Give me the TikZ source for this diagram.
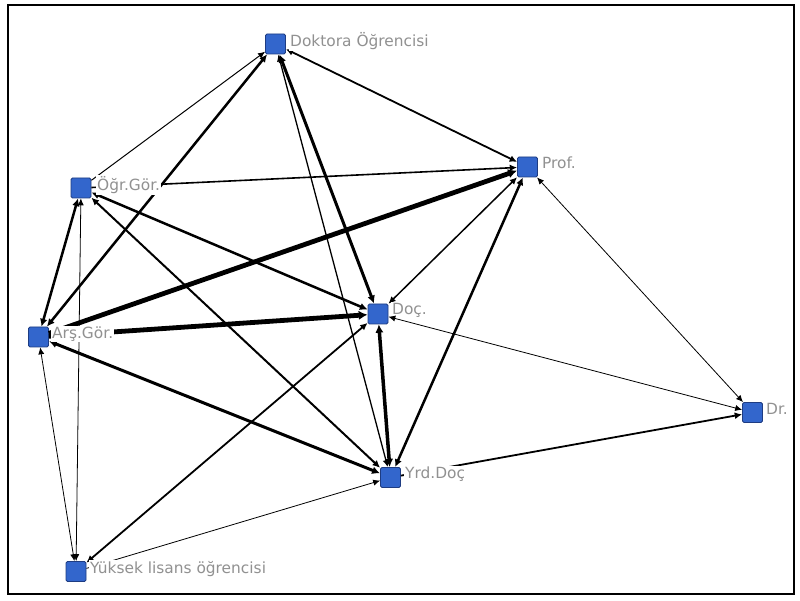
\documentclass[tikz,border=0pt]{standalone}
\usepackage{fontspec}
\setmainfont{DejaVu Sans}
\usetikzlibrary{arrows.meta}
\definecolor{nodeblue}{RGB}{51,102,204}
\definecolor{nodeedge}{RGB}{30,60,130}
\definecolor{labelgray}{RGB}{145,145,145}
\begin{document}
\begin{tikzpicture}[x=1pt,y=-1pt,
  actor/.style={rectangle, minimum size=20pt, inner sep=0pt, fill=nodeblue, draw=nodeedge, line width=0.8pt, rounded corners=1.5pt},
  lbl/.style={anchor=west, fill=white, inner xsep=1pt, inner ysep=1pt, text=labelgray, font=\fontsize{15.4}{18}\selectfont},
  tie/.style={draw=black, line width=#1},
  one/.style={-{Latex[length=6.5pt 0.5, width=5.5pt 0.8]}},
  two/.style={{Latex[length=6.5pt 0.5, width=5.5pt 0.8]}-{Latex[length=6.5pt 0.5, width=5.5pt 0.8]}},
]
\useasboundingbox (0,0) rectangle (800,601);
\fill[white] (0,0) rectangle (800,601);
\draw[line width=2pt] (8,5) rectangle (794,594);

% actors
\node[actor] (dok) at (275.5,44) {};
\node[actor] (prof) at (527.5,167) {};
\node[actor] (ogr) at (81,188) {};
\node[actor] (ars) at (38.5,337) {};
\node[actor] (doc) at (378,314) {};
\node[actor] (yrd) at (390.5,477.5) {};
\node[actor] (yuk) at (76,571.5) {};
\node[actor] (dr) at (752.5,412.5) {};

% ties
\draw[tie=1pt, one] (ogr) -- (dok);
\draw[tie=2.5pt, two] (ars) -- (dok);
\draw[tie=1.8pt, two] (dok) -- (prof);
\draw[tie=3pt, two] (dok) -- (doc);
\draw[tie=1.3pt, two] (dok) -- (yrd);
\draw[tie=1.6pt, one] (ogr) -- (prof);
\draw[tie=4.8pt, one] (ars) -- (prof);
\draw[tie=1.5pt, two] (doc) -- (prof);
\draw[tie=2.5pt, two] (yrd) -- (prof);
\draw[tie=0.8pt, two] (dr) -- (prof);
\draw[tie=2.5pt, two] (ogr) -- (ars);
\draw[tie=2.5pt, two] (ogr) -- (doc);
\draw[tie=2pt, two] (ogr) -- (yrd);
\draw[tie=0.8pt, two] (ogr) -- (yuk);
\draw[tie=4.8pt, one] (ars) -- (doc);
\draw[tie=3pt, two] (ars) -- (yrd);
\draw[tie=0.8pt, two] (ars) -- (yuk);
\draw[tie=3.5pt, two] (doc) -- (yrd);
\draw[tie=1.8pt, two] (yuk) -- (doc);
\draw[tie=0.8pt, one] (yuk) -- (yrd);
\draw[tie=1.8pt, one] (yrd) -- (dr);

% labels
\node[lbl] (ldok) at (289,41) {Doktora Öğrencisi};
\node[lbl] (lprof) at (541,163) {Prof.};
\node[lbl] (logr) at (96,185) {Öğr.Gör.};
\node[lbl] (lars) at (51,334) {Arş.Gör.};
\node[lbl] (ldoc) at (391,310) {Doç.};
\node[lbl] (lyrd) at (404,474) {Yrd.Doç};
\node[lbl] (lyuk) at (89,569) {Yüksek lisans öğrencisi};
\node[lbl] (ldr) at (765,409) {Dr.};

% tie whose head touches the Doç. label
\draw[tie=0.8pt, two] (doc) -- (dr);
\end{tikzpicture}
\end{document}
